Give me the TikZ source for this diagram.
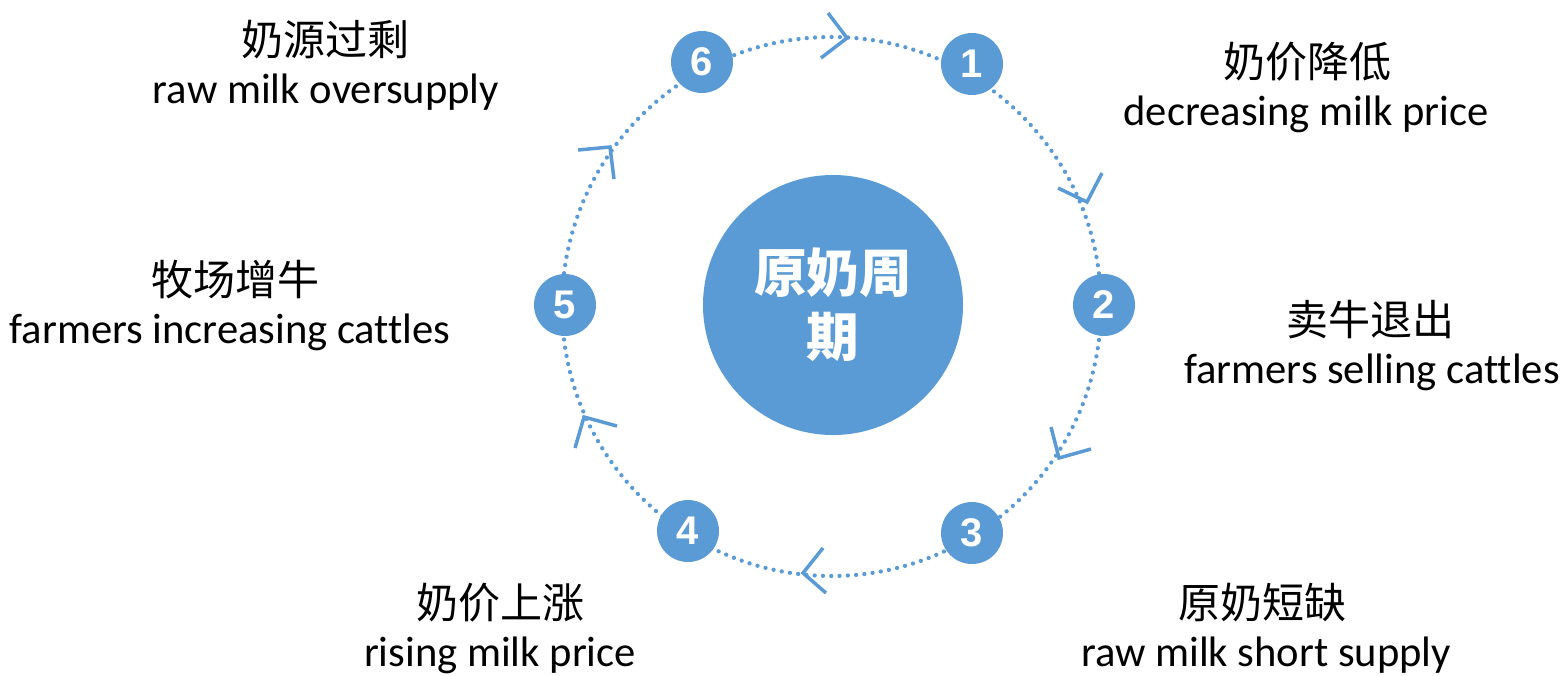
\documentclass[tikz,border=0pt]{standalone}
\usepackage{fontspec}
\setmainfont{Carlito}[Ligatures=NoCommon]
\newfontfamily\cjk{Noto Sans CJK SC}
\newfontfamily\numf{Liberation Sans}
\definecolor{blu}{HTML}{5B9BD5}
\tikzset{
  numnode/.style={circle, fill=blu, minimum size=62pt, inner sep=0pt, text=white,
    font=\numf\bfseries\fontsize{40}{40}\selectfont},
  hub/.style={circle, fill=blu, minimum size=260pt, inner sep=0pt, text=white, align=center,
    font=\cjk\bfseries\fontsize{52.5}{64}\selectfont},
  cnlabel/.style={font=\cjk\fontsize{42}{42}\selectfont, inner sep=0pt},
  enlabel/.style={font=\fontsize{42.6}{42}\selectfont, inner sep=0pt, anchor=base},
  ring/.style={draw=blu, line width=4.3pt, line cap=round, dash pattern=on 0pt off 8.3pt},
  chev/.style={draw=blu, line width=3.5pt}
}
\begin{document}
\begin{tikzpicture}[x=1pt,y=-1pt]
\useasboundingbox (0,0) rectangle (1565,675);
% ring
\coordinate (rc) at (831.5,306.5);
\draw[ring] (rc) circle[radius=269.5pt];
% chevrons
\draw[chev] (828,13) -- (847,38) -- (821,58);
\draw[chev] (1058,188) -- (1087,202) -- (1102,173);
\draw[chev] (1051,427) -- (1059,458) -- (1091,449);
\draw[chev] (823,548) -- (803,573) -- (826,593);
\draw[chev] (617,426) -- (584,417) -- (575,448);
\draw[chev] (578,150) -- (610,147) -- (614,179);
% hub
\node[hub] (hub) at (833,305) {原奶周\\期};
% numbered nodes
\node[numnode] (n1) at (972,64) {1};
\node[numnode] (n2) at (1104,305) {2};
\node[numnode] (n3) at (972,533) {3};
\node[numnode] (n4) at (688,531) {4};
\node[numnode] (n5) at (565,305) {5};
\node[numnode] (n6) at (702,62) {6};
% labels
\node[cnlabel] (c1) at (1307,62) {奶价降低};
\node[enlabel] (e1) at (1306,125) {decreasing milk price};
\node[cnlabel] (c2) at (1370,320) {卖牛退出};
\node[enlabel] (e2) at (1372,383) {farmers selling cattles};
\node[cnlabel] (c3) at (1262,603) {原奶短缺};
\node[enlabel] (e3) at (1266,666) {raw milk short supply};
\node[cnlabel] (c4) at (500,603) {奶价上涨};
\node[enlabel] (e4) at (500,666) {rising milk price};
\node[cnlabel] (c5) at (235,280) {牧场增牛};
\node[enlabel] (e5) at (230,343) {farmers increasing cattles};
\node[cnlabel] (c6) at (325,40) {奶源过剩};
\node[enlabel] (e6) at (326,103) {raw milk oversupply};
\end{tikzpicture}
\end{document}
